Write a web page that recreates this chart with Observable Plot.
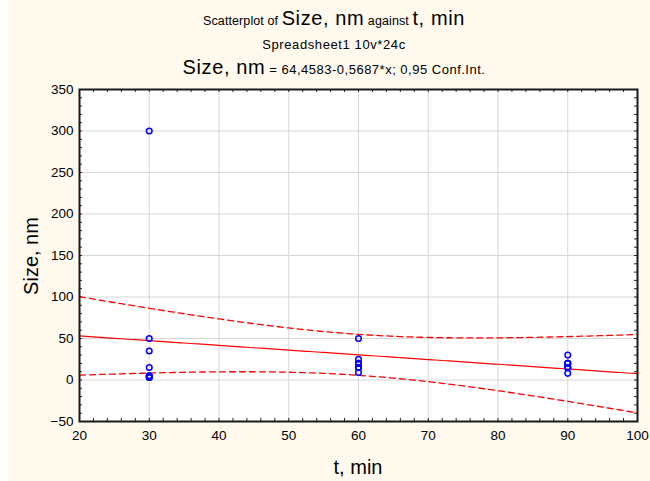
<!DOCTYPE html>
<html><head><meta charset="utf-8">
<script src="https://cdn.jsdelivr.net/npm/d3@7"></script>
<script src="https://cdn.jsdelivr.net/npm/@observablehq/plot@0.6"></script>
<style>
html,body{margin:0;padding:0;background:#fff;}
#wrap{position:relative;width:650px;height:481px;overflow:hidden;background:linear-gradient(to right,#fff 0,#fff 8px,#FFF9EE 8px);font-family:"Liberation Sans",Arial,sans-serif;color:#000;}
#chart{position:absolute;left:0;top:0;}
.t{position:absolute;left:18px;right:0;text-align:center;white-space:nowrap;line-height:1;}
.s1{font-size:12.5px;letter-spacing:0.1px;}
.s2{font-size:13px;letter-spacing:0.6px;}
.s3{font-size:13px;letter-spacing:0.5px;}
.L{font-size:20px;letter-spacing:0.6px;}
.ax{position:absolute;font-size:20px;white-space:nowrap;line-height:1;}
</style></head>
<body>
<div id="wrap">
<div id="chart"></div>
<div class="t" id="t1" style="top:8px"></div>
<div class="t" id="t2" style="top:36px"></div>
<div class="t" id="t3" style="top:57px"></div>
<div class="ax" id="ylab" style="left:31px;top:256px;transform:translate(-50%,-50%) rotate(-90deg);"></div>
<div class="ax" id="xlab" style="left:358px;top:467px;transform:translate(-50%,-50%);"></div>
</div>
<script>
// ---- data ----
const tMin   = [30,30,30,30,30,30,30,30, 60,60,60,60,60,60,60,60, 90,90,90,90,90,90,90,90];
const sizeNm = [300,50,35,15,5,5,3,3,   50,25,20,20,15,15,15,9,  30,20,20,20,15,15,15,8];
const xTicks = [20,30,40,50,60,70,80,90,100];
const yTicks = [-50,0,50,100,150,200,250,300,350];
const xLabel = "t, min";
const yLabel = "Size, nm";
const title1 = [["s1","Scatterplot of "],["L","Size, nm"],["s1"," against "],["L","t, min"]];
const title2 = [["s2","Spreadsheet1 10v*24c"]];
const title3 = [["L","Size, nm"],["s3"," = 64,4583-0,5687*x; 0,95 Conf.Int."]];
const confLevelT = 2.0739; // Student t, 0.975, df = 22

// ---- titles ----
function fill(id, parts){
  const el = document.getElementById(id);
  for (const [c, txt] of parts){ const sp = document.createElement("span"); sp.className = c; sp.textContent = txt; el.appendChild(sp); }
}
fill("t1", title1); fill("t2", title2); fill("t3", title3);
document.getElementById("xlab").textContent = xLabel;
document.getElementById("ylab").textContent = yLabel;

// ---- regression with 95% confidence band, computed from data ----
const points = tMin.map((x, i) => ({x, y: sizeNm[i]}));
const n = points.length;
const mx = d3.mean(points, d => d.x), my = d3.mean(points, d => d.y);
const Sxx = d3.sum(points, d => (d.x - mx) ** 2);
const Sxy = d3.sum(points, d => (d.x - mx) * (d.y - my));
const b = Sxy / Sxx, a = my - b * mx;
const sse = d3.sum(points, d => (d.y - (a + b * d.x)) ** 2);
const s = Math.sqrt(sse / (n - 2));
const xDom = [xTicks[0], xTicks[xTicks.length - 1]];
const band = d3.range(xDom[0], xDom[1] + 1e-9, 0.5).map(x => {
  const fit = a + b * x;
  const h = confLevelT * s * Math.sqrt(1 / n + (x - mx) ** 2 / Sxx);
  return {x, fit, lo: fit - h, hi: fit + h};
});

const xMinor = d3.range(xDom[0], xDom[1] + 1e-9, 2);
const yMinor = d3.range(yTicks[0], yTicks[yTicks.length - 1] + 1e-9, 10);

const W = 650, H = 481, mL = 79, mR = 13, mT = 89, mB = 60;
const pw = W - mL - mR, ph = H - mT - mB, tk = 3;

const chart = Plot.plot({
  width: W, height: H,
  marginLeft: mL, marginRight: mR, marginTop: mT, marginBottom: mB,
  style: {background: "transparent", color: "#000", fontFamily: "'Liberation Sans', Arial, sans-serif", fontSize: "13px"},
  x: {domain: xDom, label: null},
  y: {domain: [yTicks[0], yTicks[yTicks.length - 1]], label: null},
  marks: [
    Plot.frame({fill: "white", stroke: null}),
    Plot.gridX(xTicks, {stroke: "#d6d6d6", strokeOpacity: 1}),
    Plot.gridY(yTicks, {stroke: "#d6d6d6", strokeOpacity: 1}),
    Plot.tickX(xMinor, {x: d => d, insetTop: ph - tk, stroke: "#222"}),
    Plot.tickX(xMinor, {x: d => d, insetBottom: ph - tk, stroke: "#222"}),
    Plot.tickY(yMinor, {y: d => d, insetRight: pw - tk, stroke: "#222"}),
    Plot.tickY(yMinor, {y: d => d, insetLeft: pw - tk, stroke: "#222"}),
    Plot.line(band, {x: "x", y: "hi", stroke: "#ff0000", strokeWidth: 1.3, strokeDasharray: "6,4"}),
    Plot.line(band, {x: "x", y: "lo", stroke: "#ff0000", strokeWidth: 1.3, strokeDasharray: "6,4"}),
    Plot.line(band, {x: "x", y: "fit", stroke: "#ff0000", strokeWidth: 1.2}),
    Plot.dot(points, {x: "x", y: "y", r: 2.8, stroke: "#0000ff", strokeWidth: 1.5, fill: "none"}),
    Plot.frame({stroke: "#1a1a1a", strokeWidth: 2}),
    Plot.axisX(xTicks, {tickSize: 0, tickPadding: 9, fontSize: 13.5, label: null}),
    Plot.axisY(yTicks, {tickSize: 0, tickPadding: 6, fontSize: 13.5, label: null})
  ]
});
document.getElementById("chart").appendChild(chart);
</script>
</body></html>
